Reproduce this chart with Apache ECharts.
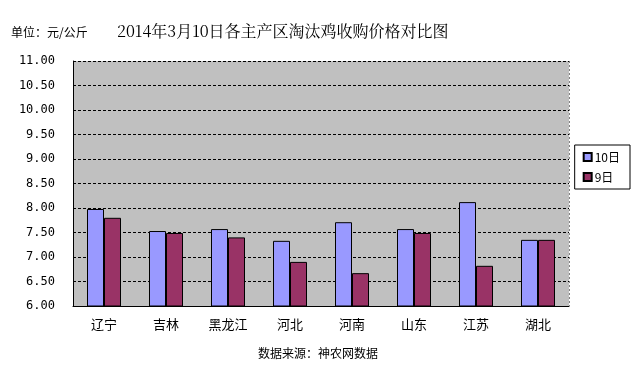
<!DOCTYPE html>
<html><head><meta charset="utf-8">
<script src="https://cdn.jsdelivr.net/npm/echarts@6/dist/echarts.min.js"></script>
<style>html,body{margin:0;padding:0;background:#fff}#c{width:636px;height:365px}</style>
</head><body><div id="c"></div>
<script>
var categories = ['辽宁','吉林','黑龙江','河北','河南','山东','江苏','湖北'];
var day10 = [7.98, 7.53, 7.57, 7.33, 7.71, 7.57, 8.12, 7.35];
var day9 = [7.80, 7.49, 7.40, 6.90, 6.67, 7.49, 6.82, 7.35];
var seriesNames = ['10日', '9日'];
var yMin = 6, yMax = 11, yStep = 0.5;

var chart = echarts.init(document.getElementById('c'));
var font = 'SimSun, "Noto Sans CJK SC", sans-serif';
chart.setOption({
  animation: false,
  backgroundColor: '#fff',
  title: [
    {text: '单位：元/公斤', left: 6, top: 21, textStyle: {fontSize: 12, fontWeight: 'normal', color: '#000', fontFamily: font}},
    {text: '2014年3月10日各主产区淘汰鸡收购价格对比图', left: 112, top: 18, textStyle: {fontSize: 16, fontWeight: 'normal', color: '#000', fontFamily: '"Noto Serif CJK SC", "Liberation Serif", serif'}},
    {text: '数据来源：神农网数据', left: 'center', top: 342, textStyle: {fontSize: 12, fontWeight: 'normal', color: '#000', fontFamily: font}}
  ],
  legend: {
    orient: 'vertical', right: 6, top: 145, itemWidth: 8, itemHeight: 8, itemGap: 8,
    borderColor: '#000', borderWidth: 1, padding: [6, 10, 6, 8],
    textStyle: {fontSize: 12, color: '#000', fontFamily: font, padding: [0,0,0,-2]},
    data: seriesNames.map(function(n){return {name: n, icon: 'rect'};})
  },
  grid: {left: 73, right: 67, top: 61, bottom: 59, show: true, backgroundColor: '#c0c0c0', borderColor: '#808080', borderWidth: 0},
  xAxis: {
    type: 'category', data: categories,
    axisLine: {lineStyle: {color: '#000', width: 1}},
    axisTick: {inside: true, length: 4, lineStyle: {color: '#000'}},
    axisLabel: {fontSize: 13, color: '#000', margin: 12, fontFamily: font}
  },
  yAxis: {
    type: 'value', min: yMin, max: yMax, interval: yStep,
    axisLine: {show: true, lineStyle: {color: '#000'}},
    axisTick: {show: false},
    axisLabel: {fontSize: 12, color: '#000', margin: 18, fontFamily: '"DejaVu Sans Mono", monospace', formatter: function(v){return v.toFixed(2);}},
    splitLine: {lineStyle: {color: '#000', type: [3, 2], width: 1}}
  },
  series: [
    {name: seriesNames[0], type: 'bar', data: day10, barWidth: 17, barGap: '0%',
     itemStyle: {color: '#9999ff', borderColor: '#000', borderWidth: 1}},
    {name: seriesNames[1], type: 'bar', data: day9, barWidth: 17,
     itemStyle: {color: '#993366', borderColor: '#000', borderWidth: 1}}
  ],
  graphic: [{type: 'line', shape: {x1: 569.5, y1: 61, x2: 569.5, y2: 306}, style: {stroke: '#808080', lineDash: [2, 2], lineWidth: 1}, z: 10}]
});
</script></body></html>
